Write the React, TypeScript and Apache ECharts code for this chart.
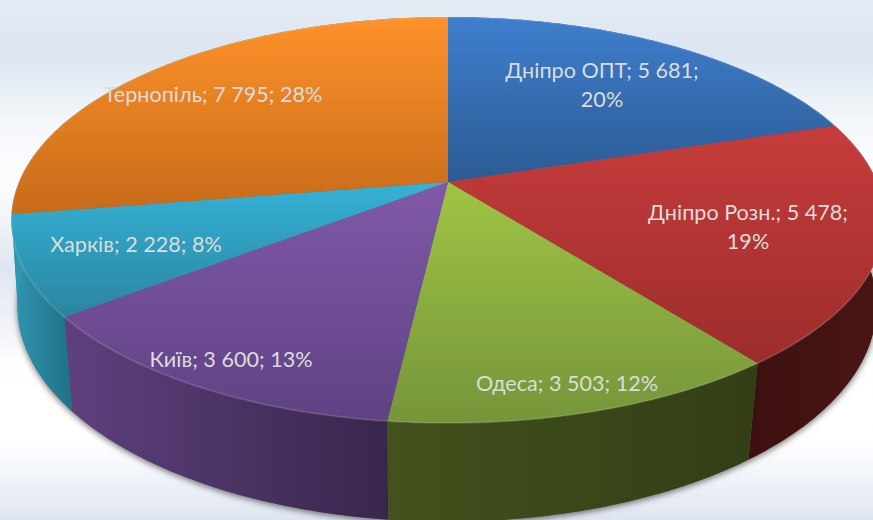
import React, { useEffect, useRef } from "react";
import * as echarts from "echarts";

const categories = ["Дніпро ОПТ", "Дніпро Розн.", "Одеса", "Київ", "Харків", "Тернопіль"];
const values = [5681, 5478, 3503, 3600, 2228, 7795];

// layout and styling (not data)
const labelCentres = [[602, 84], [748, 226], [567, 383], [231, 359], [136, 244], [213, 94]];
const labelWraps = [true, true, false, false, false, false];
const topStops = [
  ["#3f7ecd", "#2b5b94"],
  ["#c63c3c", "#9c2d2b"],
  ["#9fc544", "#75953a"],
  ["#8059a9", "#5f4283"],
  ["#35b2d6", "#2a85a1"],
  ["#fe922a", "#c76a1a"],
];
const wallStops = [
  ["#2b5b94", "#2b5b94"],
  ["#3d100f", "#4a1614"],
  ["#42511d", "#333e15"],
  ["#5f407e", "#38274c"],
  ["#3096b2", "#1e7186"],
  ["#3096b2", "#3096b2"],
];
const TOP = { cx: 448, cy: 182, rx: 429, ry: 196, k: 0.187 };
const BOTTOM = { cx: 447, cy: 269, rx: 423, ry: 209, k: 0.173 };

const total = values.reduce((a, b) => a + b, 0);
const fmt = (n: number) => String(n).replace(/\B(?=(\d{3})+(?!\d))/g, " ");

function project(p: typeof TOP, deg: number) {
  const a = (deg * Math.PI) / 180;
  const u = Math.sin(a);
  const v = -Math.cos(a);
  const d = 1 - p.k * v;
  return [p.cx + (p.rx * u) / d, p.cy + (p.ry * v) / d];
}
function arc(p: typeof TOP, a0: number, a1: number) {
  const pts: number[][] = [];
  const n = Math.max(2, Math.ceil(Math.abs(a1 - a0)));
  for (let i = 0; i <= n; i++) pts.push(project(p, a0 + ((a1 - a0) * i) / n));
  return pts;
}
function sliceAngles(i: number) {
  let before = 0;
  for (let j = 0; j < i; j++) before += values[j];
  return [(before / total) * 360, ((before + values[i]) / total) * 360];
}
const grad = (c: string[], horizontal: boolean) =>
  new echarts.graphic.LinearGradient(0, 0, horizontal ? 1 : 0, horizontal ? 0 : 1, [
    { offset: 0, color: c[0] },
    { offset: 1, color: c[1] },
  ]);

export default function App() {
  const ref = useRef<HTMLDivElement>(null);
  useEffect(() => {
    document.body.style.margin = "0";
    const chart = echarts.init(ref.current!, undefined, { renderer: "svg" });
    const seriesData = categories.map((name, i) => ({ name, value: values[i] }));
    chart.setOption({
      animation: false,
      backgroundColor: new echarts.graphic.LinearGradient(0, 0, 0, 1, [
        { offset: 0, color: "#e5ecf5" },
        { offset: 0.1, color: "#dbe5f0" },
        { offset: 0.24, color: "#f5f8fb" },
        { offset: 0.36, color: "#fcfdfe" },
        { offset: 0.52, color: "#dfe6f1" },
        { offset: 0.7, color: "#fefefe" },
        { offset: 0.85, color: "#ffffff" },
        { offset: 0.92, color: "#f0f3f9" },
        { offset: 1, color: "#dfe5f0" },
      ]),
      series: [
        {
          type: "custom",
          name: "shadow",
          coordinateSystem: "none",
          silent: true,
          data: [0],
          renderItem: () => ({
            type: "polygon",
            shape: { points: arc(BOTTOM, 0, 360) },
            style: {
              fill: "#666",
              shadowBlur: 6,
              shadowColor: "rgba(0,0,0,0.55)",
              shadowOffsetY: 2,
            },
          }),
        },
        {
          type: "custom",
          name: "walls",
          coordinateSystem: "none",
          silent: true,
          data: seriesData,
          renderItem: (params: any) => {
            const i = params.dataIndex;
            const [a0, a1] = sliceAngles(i);
            return {
              type: "polygon",
              shape: { points: [...arc(TOP, a0, a1), ...arc(BOTTOM, a1, a0)] },
              style: { fill: grad(wallStops[i], true) },
            };
          },
        },
        {
          type: "custom",
          name: "tops",
          coordinateSystem: "none",
          silent: true,
          data: seriesData,
          renderItem: (params: any) => {
            const i = params.dataIndex;
            const [a0, a1] = sliceAngles(i);
            const edge = arc(TOP, a0, a1);
            return {
              type: "group",
              children: [
                {
                  type: "polygon",
                  shape: { points: [[TOP.cx, TOP.cy], ...edge] },
                  style: { fill: grad(topStops[i], false) },
                },
                {
                  type: "polyline",
                  shape: { points: edge },
                  style: { fill: "none", stroke: "rgba(255,255,255,0.12)", lineWidth: 2 },
                },
              ],
            };
          },
        },
        {
          type: "custom",
          name: "labels",
          coordinateSystem: "none",
          silent: true,
          data: seriesData,
          renderItem: (params: any) => {
            const i = params.dataIndex;
            const pct = Math.round((values[i] / total) * 100);
            const sep = labelWraps[i] ? "\n" : " ";
            return {
              type: "text",
              x: labelCentres[i][0],
              y: labelCentres[i][1],
              style: {
                text: `${categories[i]}; ${fmt(values[i])};${sep}${pct}%`,
                fill: "#dcdcdc",
                font: "21.6px Lato, 'Open Sans', sans-serif",
                lineHeight: 29,
                align: "center",
                verticalAlign: "middle",
              },
            };
          },
        },
      ],
    });
    return () => chart.dispose();
  }, []);
  return <div ref={ref} style={{ width: 873, height: 520, display: "block", overflow: "hidden" }} />;
}
